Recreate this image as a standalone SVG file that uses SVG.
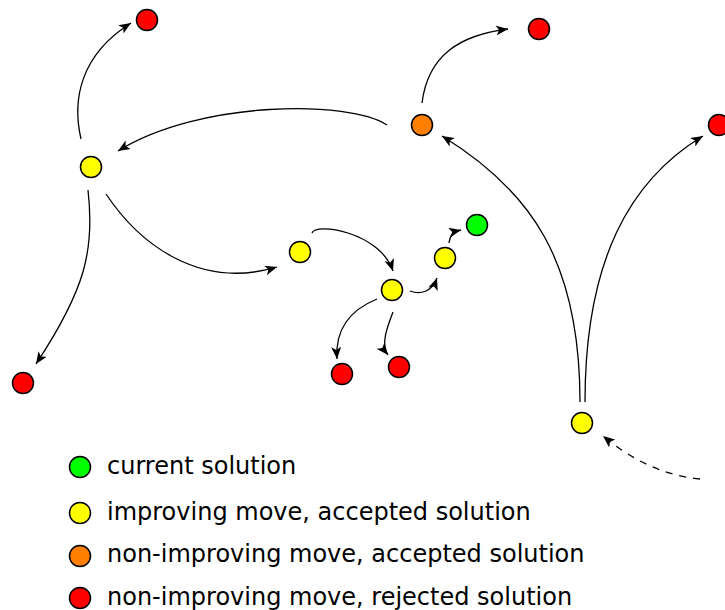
<svg xmlns="http://www.w3.org/2000/svg" width="725" height="610" viewBox="0 0 725 610">
<style>
.n{stroke:#000;stroke-width:1.5}
.red{fill:#ff0000}.yel{fill:#ffff00}.ora{fill:#ff8000}.grn{fill:#00ff00}
.c{fill:none;stroke:#000;stroke-width:1.3;marker-end:url(#ah)}
.d{stroke-dasharray:7,7}
.t{font-family:"DejaVu Sans",sans-serif;font-size:24px;fill:#000}
</style>
<defs>
<marker id="ah" markerUnits="userSpaceOnUse" markerWidth="14" markerHeight="10" refX="12" refY="5" orient="auto">
<path d="M0,0 L12,5 L0,10 L3,5 Z" fill="#000"/>
</marker>
</defs>
<g id="connectors">
<path class="c" d="M81,139 C72,100 80,55 131,23"/>
<path class="c" d="M387,125 C350,100 200,100 118,151"/>
<path class="c" d="M422,103 C428,55 460,35 508,29"/>
<path class="c" d="M580,402 C580,260 530,190 442,136"/>
<path class="c" d="M585,402 C585,260 630,180 703,136"/>
<path class="c d" d="M700,479 C660,475 630,458 603,436"/>
<path class="c" d="M88,190 C95,250 85,290 36,364"/>
<path class="c" d="M106,194 C140,245 200,290 277,267"/>
<path class="c" d="M312,233 C315,222 380,232 393,271"/>
<path class="c" d="M410,291 C420,295 432,292 437,278"/>
<path class="c" d="M449,243 C450,236 452,232 461,230"/>
<path class="c" d="M377,299 C350,310 335,330 337,359"/>
<path class="c" d="M393,312 C388,325 380,345 388,355"/>
</g>
<g id="r1"><circle class="n red" cx="147" cy="20" r="10.5"/></g>
<g id="r2"><circle class="n red" cx="539" cy="29" r="10.5"/></g>
<g id="o1"><circle class="n ora" cx="422" cy="125" r="10.5"/></g>
<g id="r3"><circle class="n red" cx="719" cy="125" r="10.5"/></g>
<g id="y1"><circle class="n yel" cx="91" cy="167" r="10.5"/></g>
<g id="y2"><circle class="n yel" cx="300" cy="252" r="10.5"/></g>
<g id="g1"><circle class="n grn" cx="477" cy="225" r="10.5"/></g>
<g id="y3"><circle class="n yel" cx="445" cy="258" r="10.5"/></g>
<g id="y4"><circle class="n yel" cx="392" cy="290" r="10.5"/></g>
<g id="r4"><circle class="n red" cx="342" cy="374" r="10.5"/></g>
<g id="r5"><circle class="n red" cx="399" cy="367" r="10.5"/></g>
<g id="r6"><circle class="n red" cx="23" cy="383" r="10.5"/></g>
<g id="y5"><circle class="n yel" cx="582" cy="423" r="10.5"/></g>
<g id="legend">
<circle class="n grn" cx="80" cy="467" r="10.5"/>
<text class="t" x="107" y="474">current solution</text>
<circle class="n yel" cx="80" cy="513" r="10.5"/>
<text class="t" x="107" y="520">improving move, accepted solution</text>
<circle class="n ora" cx="80" cy="556" r="10.5"/>
<text class="t" x="107" y="562">non-improving move, accepted solution</text>
<circle class="n red" cx="80" cy="598" r="10.5"/>
<text class="t" x="107" y="605">non-improving move, rejected solution</text>
</g>
</svg>
